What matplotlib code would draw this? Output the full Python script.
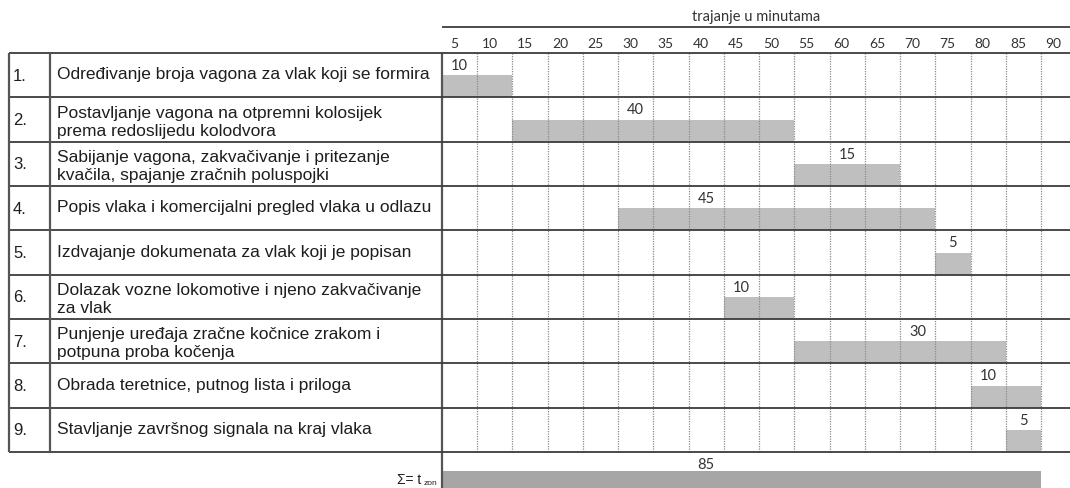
import matplotlib.pyplot as plt

# table data
nums = ['1.', '2.', '3.', '4.', '5.', '6.', '7.', '8.', '9.']
tasks = [
    'Određivanje broja vagona za vlak koji se formira',
    'Postavljanje vagona na otpremni kolosijek\nprema redoslijedu kolodvora',
    'Sabijanje vagona, zakvačivanje i pritezanje\nkvačila, spajanje zračnih poluspojki',
    'Popis vlaka i komercijalni pregled vlaka u odlazu',
    'Izdvajanje dokumenata za vlak koji je popisan',
    'Dolazak vozne lokomotive i njeno zakvačivanje\nza vlak',
    'Punjenje uređaja zračne kočnice zrakom i\npotpuna proba kočenja',
    'Obrada teretnice, putnog lista i priloga',
    'Stavljanje završnog signala na kraj vlaka',
]
start = [0, 10, 50, 25, 70, 40, 50, 75, 80]
dur = [10, 40, 15, 45, 5, 10, 30, 10, 5]
label_col = [1, 6, 12, 8, 15, 9, 14, 16, 17]  # column (5 min each) holding the number
total = 85
total_label_col = 8
ticks = list(range(5, 95, 5))
title = 'trajanje u minutama'

W, H = 1070, 488
grid_x0, grid_x1 = 442, 1041      # px where 0 and 85 min sit
px_min = (grid_x1 - grid_x0) / 85
y_top = 53
row_h = (452 - 53) / 9
ylim = ((H - y_top) / row_h, -y_top / row_h)
xmax = (W - grid_x0) / px_min

line_c = '#3c3c3c'
txt_c = '#1e1e1e'
num_font = 'Lato'
txt_font = 'Liberation Sans'

fig = plt.figure(figsize=(W / 100, H / 100), dpi=100)

# gantt part (x in minutes, y in rows)
ax = fig.add_axes([grid_x0 / W, 0, 1 - grid_x0 / W, 1])
ax.set_xlim(0, xmax)
ax.set_ylim(*ylim)
ax.axis('off')

# left part of the table (x in px)
axl = fig.add_axes([0, 0, grid_x0 / W, 1])
axl.set_xlim(0, grid_x0)
axl.set_ylim(*ylim)
axl.axis('off')

rows = range(len(tasks))

# bars in lower half of each row
ax.barh([i + 0.5 for i in rows], dur, left=start, height=0.5, align='edge',
        color='#bfbfbf', zorder=1)
for i in rows:
    ax.text(label_col[i] * 5 - 2.5, i + 0.29, str(dur[i]), ha='center', va='center',
            fontsize=10.5, family=num_font, color='#333333', zorder=4)

# grid
ax.vlines([t for t in ticks if t <= 85], 0, len(tasks), colors='#8a8a8a',
          linestyles=(0, (1, 1)), lw=0.9, zorder=2)
ax.vlines(0, 0, ylim[0], colors='#555555', lw=1.6, zorder=3, clip_on=False)
ax.hlines(range(len(tasks) + 1), 0, xmax, colors=line_c, lw=1.3, zorder=3, clip_on=False)
axl.hlines(range(len(tasks) + 1), 9, grid_x0, colors=line_c, lw=1.3, zorder=3, clip_on=False)
axl.vlines([9, 50], 0, len(tasks), colors='#555555', lw=1.6, zorder=3)

# header
ax.hlines(-0.587, 0, xmax, colors=line_c, lw=1.3, clip_on=False)
ax.text(xmax / 2, -0.81, title, ha='center', va='center', fontsize=10.5,
        family=num_font, color='#333333')
for t in ticks:
    ax.text(t - 3.27, -0.2, str(t), ha='center', va='center', fontsize=10,
            family=num_font, color='#333333')

# text columns
for i in rows:
    axl.text(13, i + 0.52, nums[i], ha='left', va='center', fontsize=12,
             family=txt_font, color=txt_c)
    two = '\n' in tasks[i]
    axl.text(57, i + (0.56 if two else 0.49), tasks[i], ha='left', va='center',
             fontsize=12.5, family=txt_font, color=txt_c, linespacing=1.25)

# total row
ax.barh(9.43, total, left=0, height=1.0, align='edge', color='#a6a6a6', zorder=1)
ax.text(total_label_col * 5 - 2.5, 9.29, str(total), ha='center', va='center',
        fontsize=10.5, family=num_font, color='#333333')
axl.text(421, 9.8, 'Σ= t', ha='right', va='bottom', fontsize=10,
         family=txt_font, color=txt_c)
axl.text(424, 9.8, 'zon', ha='left', va='bottom', fontsize=6,
         family=txt_font, color=txt_c)

fig.savefig('out.png', dpi=100)
